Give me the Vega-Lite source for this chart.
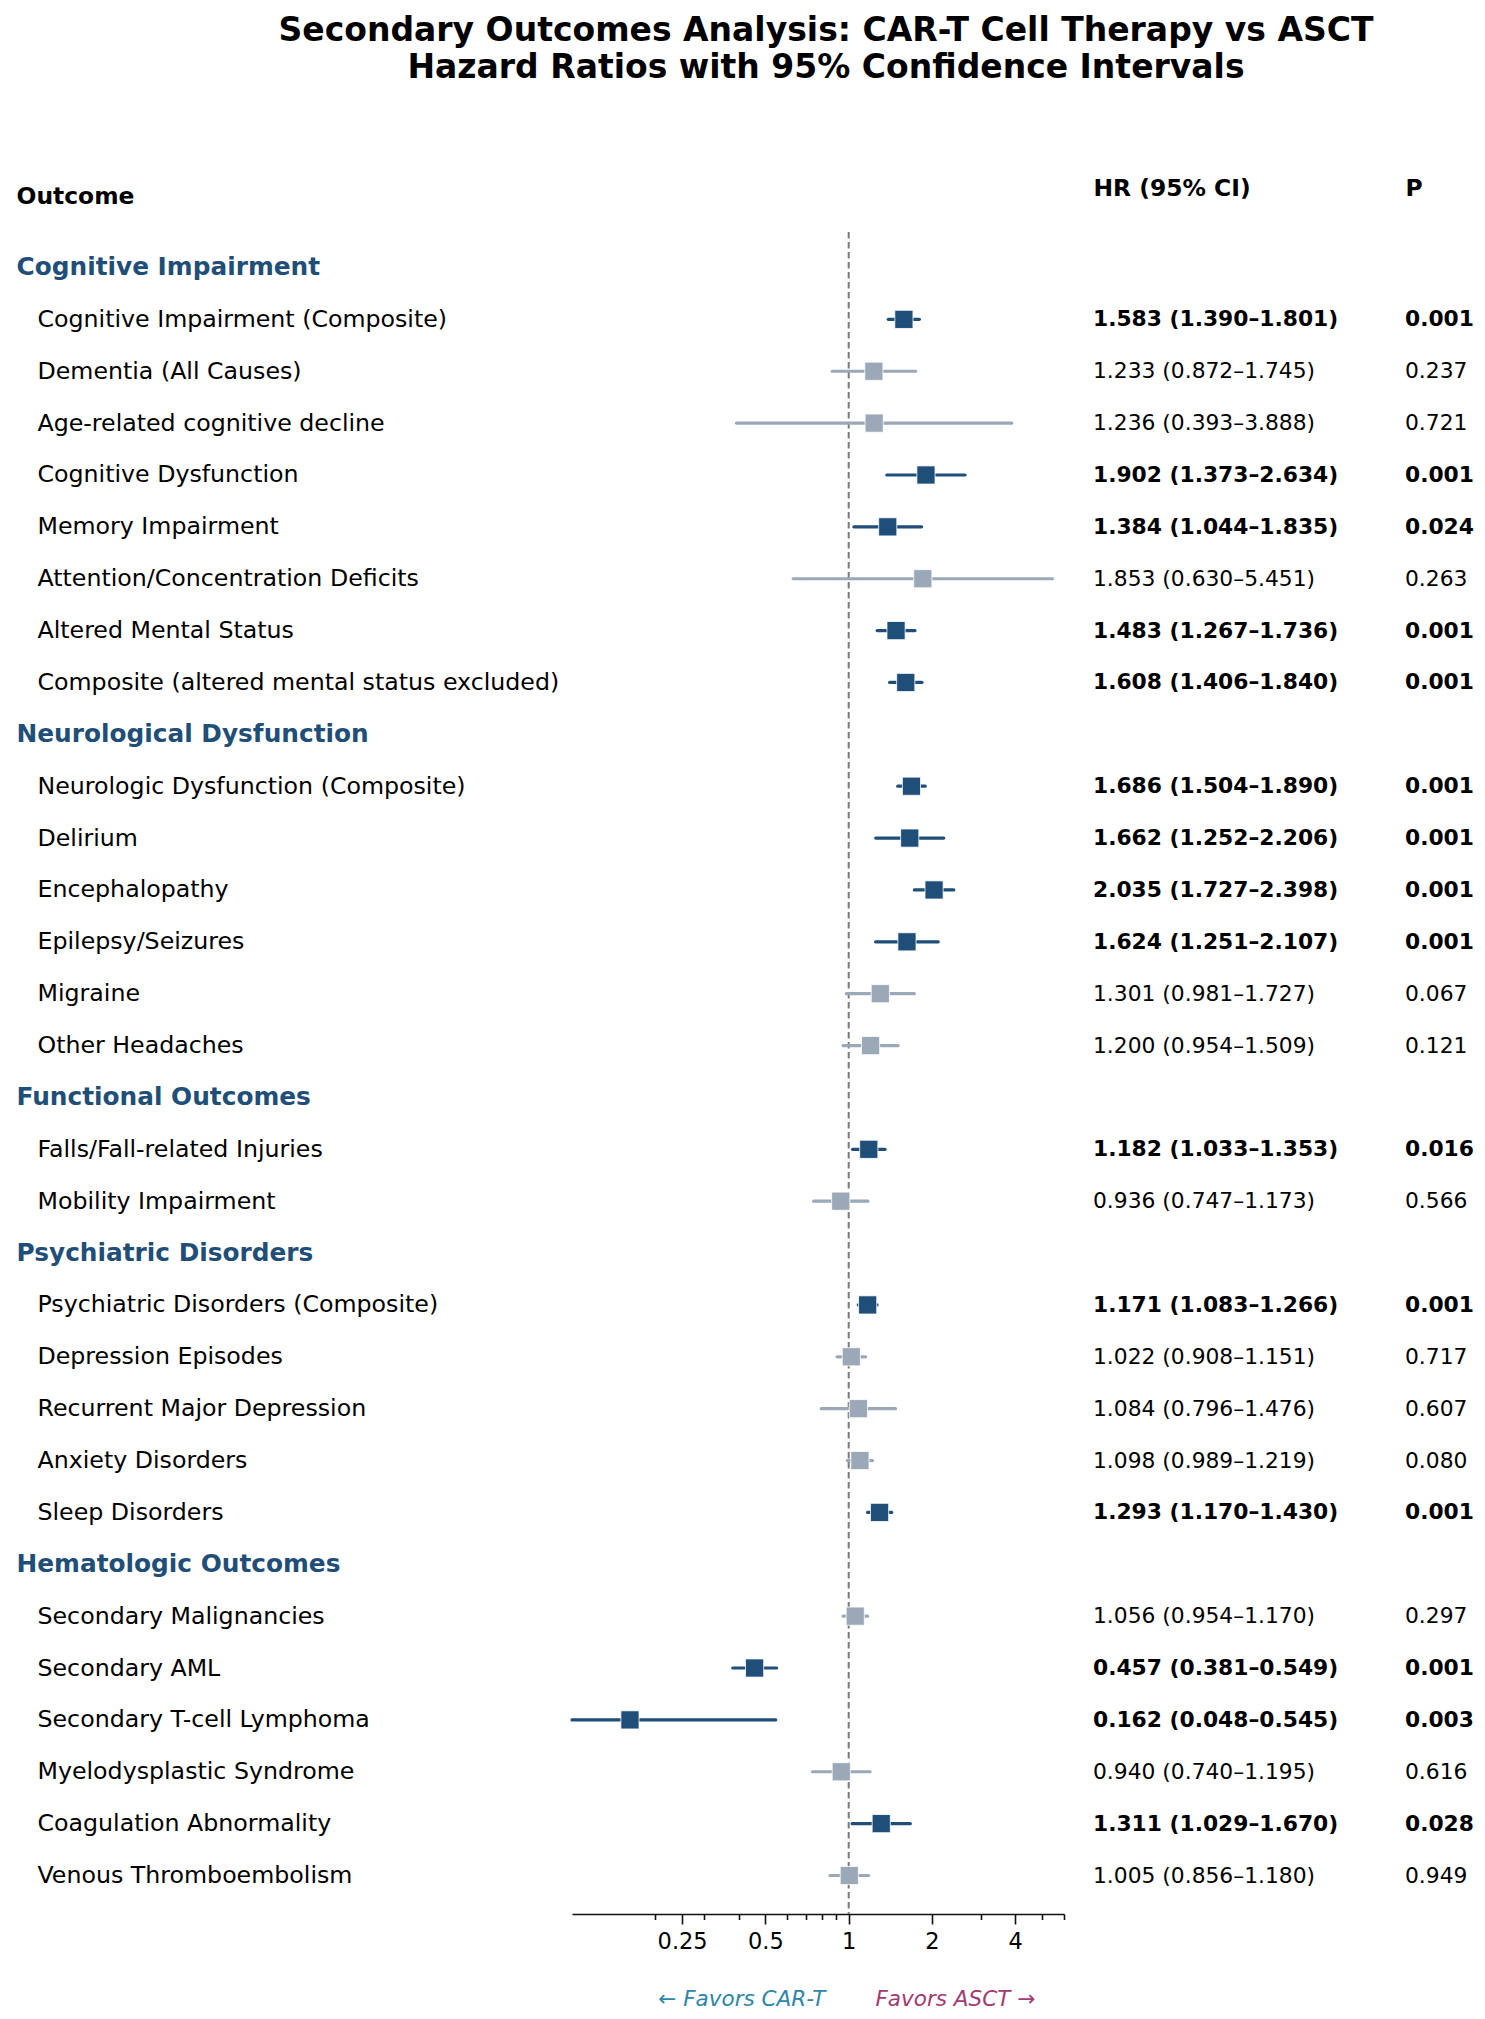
{
  "$schema": "https://vega.github.io/schema/vega-lite/v6.json",
  "width": 492,
  "height": 1682,
  "autosize": {"type": "none"},
  "padding": {"left": 572, "top": 232, "right": 421, "bottom": 105},
  "background": "white",
  "config": {"view": {"stroke": null}, "font": "DejaVu Sans", "axis": {"labelFont": "DejaVu Sans", "titleFont": "DejaVu Sans"}},
  "title": {
    "text": ["Secondary Outcomes Analysis: CAR-T Cell Therapy vs ASCT", "Hazard Ratios with 95% Confidence Intervals"],
    "font": "DejaVu Sans", "fontSize": 33, "fontWeight": "bold", "color": "black",
    "anchor": "middle", "frame": "group", "lineHeight": 37, "offset": 91, "dx": 8
  },
  "data": {"values": [
    {"label": "Cognitive Impairment", "type": "section"},
    {"label": "Cognitive Impairment (Composite)", "hr": 1.583, "lo": 1.390, "hi": 1.801, "ci": "1.583 (1.390–1.801)", "p": "0.001", "sig": "yes"},
    {"label": "Dementia (All Causes)", "hr": 1.233, "lo": 0.872, "hi": 1.745, "ci": "1.233 (0.872–1.745)", "p": "0.237", "sig": "no"},
    {"label": "Age-related cognitive decline", "hr": 1.236, "lo": 0.393, "hi": 3.888, "ci": "1.236 (0.393–3.888)", "p": "0.721", "sig": "no"},
    {"label": "Cognitive Dysfunction", "hr": 1.902, "lo": 1.373, "hi": 2.634, "ci": "1.902 (1.373–2.634)", "p": "0.001", "sig": "yes"},
    {"label": "Memory Impairment", "hr": 1.384, "lo": 1.044, "hi": 1.835, "ci": "1.384 (1.044–1.835)", "p": "0.024", "sig": "yes"},
    {"label": "Attention/Concentration Deficits", "hr": 1.853, "lo": 0.630, "hi": 5.451, "ci": "1.853 (0.630–5.451)", "p": "0.263", "sig": "no"},
    {"label": "Altered Mental Status", "hr": 1.483, "lo": 1.267, "hi": 1.736, "ci": "1.483 (1.267–1.736)", "p": "0.001", "sig": "yes"},
    {"label": "Composite (altered mental status excluded)", "hr": 1.608, "lo": 1.406, "hi": 1.840, "ci": "1.608 (1.406–1.840)", "p": "0.001", "sig": "yes"},
    {"label": "Neurological Dysfunction", "type": "section"},
    {"label": "Neurologic Dysfunction (Composite)", "hr": 1.686, "lo": 1.504, "hi": 1.890, "ci": "1.686 (1.504–1.890)", "p": "0.001", "sig": "yes"},
    {"label": "Delirium", "hr": 1.662, "lo": 1.252, "hi": 2.206, "ci": "1.662 (1.252–2.206)", "p": "0.001", "sig": "yes"},
    {"label": "Encephalopathy", "hr": 2.035, "lo": 1.727, "hi": 2.398, "ci": "2.035 (1.727–2.398)", "p": "0.001", "sig": "yes"},
    {"label": "Epilepsy/Seizures", "hr": 1.624, "lo": 1.251, "hi": 2.107, "ci": "1.624 (1.251–2.107)", "p": "0.001", "sig": "yes"},
    {"label": "Migraine", "hr": 1.301, "lo": 0.981, "hi": 1.727, "ci": "1.301 (0.981–1.727)", "p": "0.067", "sig": "no"},
    {"label": "Other Headaches", "hr": 1.200, "lo": 0.954, "hi": 1.509, "ci": "1.200 (0.954–1.509)", "p": "0.121", "sig": "no"},
    {"label": "Functional Outcomes", "type": "section"},
    {"label": "Falls/Fall-related Injuries", "hr": 1.182, "lo": 1.033, "hi": 1.353, "ci": "1.182 (1.033–1.353)", "p": "0.016", "sig": "yes"},
    {"label": "Mobility Impairment", "hr": 0.936, "lo": 0.747, "hi": 1.173, "ci": "0.936 (0.747–1.173)", "p": "0.566", "sig": "no"},
    {"label": "Psychiatric Disorders", "type": "section"},
    {"label": "Psychiatric Disorders (Composite)", "hr": 1.171, "lo": 1.083, "hi": 1.266, "ci": "1.171 (1.083–1.266)", "p": "0.001", "sig": "yes"},
    {"label": "Depression Episodes", "hr": 1.022, "lo": 0.908, "hi": 1.151, "ci": "1.022 (0.908–1.151)", "p": "0.717", "sig": "no"},
    {"label": "Recurrent Major Depression", "hr": 1.084, "lo": 0.796, "hi": 1.476, "ci": "1.084 (0.796–1.476)", "p": "0.607", "sig": "no"},
    {"label": "Anxiety Disorders", "hr": 1.098, "lo": 0.989, "hi": 1.219, "ci": "1.098 (0.989–1.219)", "p": "0.080", "sig": "no"},
    {"label": "Sleep Disorders", "hr": 1.293, "lo": 1.170, "hi": 1.430, "ci": "1.293 (1.170–1.430)", "p": "0.001", "sig": "yes"},
    {"label": "Hematologic Outcomes", "type": "section"},
    {"label": "Secondary Malignancies", "hr": 1.056, "lo": 0.954, "hi": 1.170, "ci": "1.056 (0.954–1.170)", "p": "0.297", "sig": "no"},
    {"label": "Secondary AML", "hr": 0.457, "lo": 0.381, "hi": 0.549, "ci": "0.457 (0.381–0.549)", "p": "0.001", "sig": "yes"},
    {"label": "Secondary T-cell Lymphoma", "hr": 0.162, "lo": 0.048, "hi": 0.545, "ci": "0.162 (0.048–0.545)", "p": "0.003", "sig": "yes"},
    {"label": "Myelodysplastic Syndrome", "hr": 0.940, "lo": 0.740, "hi": 1.195, "ci": "0.940 (0.740–1.195)", "p": "0.616", "sig": "no"},
    {"label": "Coagulation Abnormality", "hr": 1.311, "lo": 1.029, "hi": 1.670, "ci": "1.311 (1.029–1.670)", "p": "0.028", "sig": "yes"},
    {"label": "Venous Thromboembolism", "hr": 1.005, "lo": 0.856, "hi": 1.180, "ci": "1.005 (0.856–1.180)", "p": "0.949", "sig": "no"}
  ]},
  "layer": [
    {
      "layer": [
        {
          "data": {"values": [{"ref": 1}]},
          "mark": {"type": "rule", "color": "#7a7a7a", "strokeWidth": 2, "strokeDash": [6.5, 3.5]},
          "encoding": {
            "x": {
              "field": "ref", "type": "quantitative",
              "scale": {"type": "log", "domain": [0.1, 6], "nice": false, "clamp": true},
              "axis": {
                "orient": "bottom",
                "values": [0.2, 0.25, 0.3, 0.4, 0.5, 0.6, 0.7, 0.8, 0.9, 1, 2, 3, 4, 5, 6],
                "format": "~g",
                "labelExpr": "(datum.value == 0.25 || datum.value == 0.5 || datum.value == 1 || datum.value == 2 || datum.value == 4) ? datum.label : ''",
                "labelOverlap": false,
                "labelFlush": false,
                "grid": false,
                "tickSize": {"condition": {"test": "datum.value == 0.25 || datum.value == 0.5 || datum.value == 1 || datum.value == 2 || datum.value == 4", "value": 10}, "value": 5.5},
                "tickColor": "#111111",
                "tickWidth": 1.6,
                "domainColor": "#111111",
                "domainWidth": 1.6,
                "labelFontSize": 22.5,
                "labelColor": "black",
                "labelPadding": 6,
                "title": "← Favors CAR-T",
                "titleColor": "#2E86AB",
                "titleFontStyle": "italic",
                "titleFontWeight": "normal",
                "titleFontSize": 21.5,
                "titleAlign": "right",
                "titleBaseline": "middle",
                "titleAngle": 0,
                "titleX": 253,
                "titleY": 85
              }
            }
          }
        },
        {
          "transform": [{"filter": "isValid(datum.hr)"}],
          "mark": {"type": "rule", "strokeWidth": 3.2, "strokeCap": "round"},
          "encoding": {
            "x": {"field": "lo", "type": "quantitative", "scale": {"type": "log", "domain": [0.1, 6], "nice": false, "clamp": true}},
            "x2": {"field": "hi"},
            "y": {
              "field": "label", "type": "nominal",
              "scale": {"type": "point", "padding": 0, "range": [35.5, 1643.5], "domain": ["Cognitive Impairment", "Cognitive Impairment (Composite)", "Dementia (All Causes)", "Age-related cognitive decline", "Cognitive Dysfunction", "Memory Impairment", "Attention/Concentration Deficits", "Altered Mental Status", "Composite (altered mental status excluded)", "Neurological Dysfunction", "Neurologic Dysfunction (Composite)", "Delirium", "Encephalopathy", "Epilepsy/Seizures", "Migraine", "Other Headaches", "Functional Outcomes", "Falls/Fall-related Injuries", "Mobility Impairment", "Psychiatric Disorders", "Psychiatric Disorders (Composite)", "Depression Episodes", "Recurrent Major Depression", "Anxiety Disorders", "Sleep Disorders", "Hematologic Outcomes", "Secondary Malignancies", "Secondary AML", "Secondary T-cell Lymphoma", "Myelodysplastic Syndrome", "Coagulation Abnormality", "Venous Thromboembolism"]},
              "axis": {
                "orient": "left",
                "title": "Outcome",
                "titleAngle": 0,
                "titleAlign": "left",
                "titleBaseline": "middle",
                "titleX": -556,
                "titleY": -36,
                "titleFontSize": 23.4,
                "titleFontWeight": "bold",
                "titleColor": "black",
                "domain": false,
                "ticks": false,
                "tickSize": 0,
                "grid": false,
                "labelAlign": "left",
                "labelBaseline": "middle",
                "labelLimit": 0,
                "labelPadding": {"condition": {"test": "indexof(['Cognitive Impairment','Neurological Dysfunction','Functional Outcomes','Psychiatric Disorders','Hematologic Outcomes'], datum.value) >= 0", "value": 556}, "value": 535},
                "labelFontSize": {"condition": {"test": "indexof(['Cognitive Impairment','Neurological Dysfunction','Functional Outcomes','Psychiatric Disorders','Hematologic Outcomes'], datum.value) >= 0", "value": 24.8}, "value": 23.7},
                "labelFontWeight": {"condition": {"test": "indexof(['Cognitive Impairment','Neurological Dysfunction','Functional Outcomes','Psychiatric Disorders','Hematologic Outcomes'], datum.value) >= 0", "value": "bold"}, "value": "normal"},
                "labelColor": {"condition": {"test": "indexof(['Cognitive Impairment','Neurological Dysfunction','Functional Outcomes','Psychiatric Disorders','Hematologic Outcomes'], datum.value) >= 0", "value": "#1f4e79"}, "value": "black"}
              }
            },
            "color": {"field": "sig", "type": "nominal", "scale": {"domain": ["yes", "no"], "range": ["#1f4e79", "#9aa8b8"]}, "legend": null}
          }
        },
        {
          "transform": [{"filter": "isValid(datum.hr)"}],
          "mark": {"type": "square", "size": 330, "filled": true, "opacity": 1, "stroke": "white", "strokeWidth": 0.8},
          "encoding": {
            "x": {"field": "hr", "type": "quantitative", "scale": {"type": "log", "domain": [0.1, 6], "nice": false, "clamp": true}},
            "y": {"field": "label", "type": "nominal"},
            "color": {"field": "sig", "type": "nominal", "scale": {"domain": ["yes", "no"], "range": ["#1f4e79", "#9aa8b8"]}, "legend": null}
          }
        }
      ]
    },
    {
      "layer": [
        {
          "transform": [{"filter": "isValid(datum.ci) && datum.sig == 'yes'"}],
          "mark": {"type": "text", "align": "left", "baseline": "middle", "fontSize": 21.8, "fontWeight": "bold", "color": "black"},
          "encoding": {
            "x": {
              "datum": "HR (95% CI)", "type": "nominal",
              "scale": {"type": "point", "domain": ["HR (95% CI)", "P"], "range": [521, 833], "padding": 0},
              "axis": {
                "orient": "top",
                "domain": false,
                "ticks": false,
                "tickSize": 0,
                "grid": false,
                "labelAngle": 0,
                "labelAlign": "left",
                "labelBaseline": "middle",
                "labelPadding": 44,
                "labelFontSize": 23.4,
                "labelFontWeight": "bold",
                "labelColor": "black",
                "labelLimit": 0,
                "title": "Favors ASCT →",
                "titleColor": "#A23B72",
                "titleFontStyle": "italic",
                "titleFontWeight": "normal",
                "titleFontSize": 21.5,
                "titleAlign": "left",
                "titleBaseline": "middle",
                "titleAngle": 0,
                "titleX": 303,
                "titleY": 1767
              }
            },
            "y": {"field": "label", "type": "nominal"},
            "text": {"field": "ci", "type": "nominal"}
          }
        },
        {
          "transform": [{"filter": "isValid(datum.ci) && datum.sig == 'no'"}],
          "mark": {"type": "text", "align": "left", "baseline": "middle", "fontSize": 21.8, "fontWeight": "normal", "color": "black"},
          "encoding": {
            "x": {"datum": "HR (95% CI)", "type": "nominal", "scale": {"type": "point", "domain": ["HR (95% CI)", "P"], "range": [521, 833], "padding": 0}},
            "y": {"field": "label", "type": "nominal"},
            "text": {"field": "ci", "type": "nominal"}
          }
        },
        {
          "transform": [{"filter": "isValid(datum.p) && datum.sig == 'yes'"}],
          "mark": {"type": "text", "align": "left", "baseline": "middle", "fontSize": 21.8, "fontWeight": "bold", "color": "black"},
          "encoding": {
            "x": {"datum": "P", "type": "nominal", "scale": {"type": "point", "domain": ["HR (95% CI)", "P"], "range": [521, 833], "padding": 0}},
            "y": {"field": "label", "type": "nominal"},
            "text": {"field": "p", "type": "nominal"}
          }
        },
        {
          "transform": [{"filter": "isValid(datum.p) && datum.sig == 'no'"}],
          "mark": {"type": "text", "align": "left", "baseline": "middle", "fontSize": 21.8, "fontWeight": "normal", "color": "black"},
          "encoding": {
            "x": {"datum": "P", "type": "nominal", "scale": {"type": "point", "domain": ["HR (95% CI)", "P"], "range": [521, 833], "padding": 0}},
            "y": {"field": "label", "type": "nominal"},
            "text": {"field": "p", "type": "nominal"}
          }
        }
      ]
    }
  ],
  "resolve": {"scale": {"x": "independent"}, "axis": {"x": "independent"}}
}
